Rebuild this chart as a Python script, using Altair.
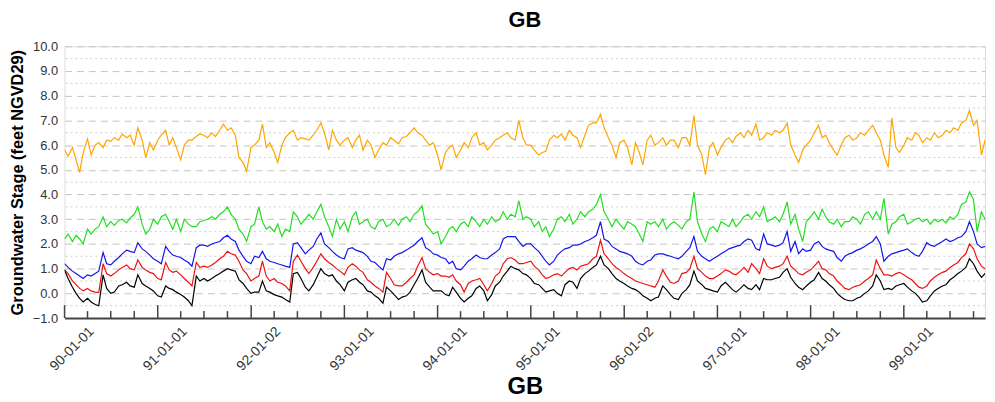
import altair as alt
import pandas as pd

# ---- data (semi-monthly readings, 1990-01-01 .. 1999-12-15) ----
DATES = pd.date_range("1990-01-01", periods=240, freq="SMS")

ORANGE = [
    5.8, 5.55, 5.9, 5.4, 4.9, 5.7, 6.25, 5.6, 6.0, 6.1, 5.9, 6.2, 6.15, 6.3, 6.2, 6.45, 6.3, 6.4, 6.0, 6.7,
    6.2, 5.5, 6.1, 5.8, 6.2, 6.4, 6.6, 6.0, 6.3, 5.9, 5.4, 6.0, 6.2, 6.2, 6.35, 6.45, 6.4, 6.3, 6.5, 6.35,
    6.6, 6.85, 6.6, 6.7, 6.4, 5.5, 5.3, 4.95, 5.9, 6.0, 6.2, 6.85, 5.9, 6.1, 5.7, 5.3, 6.0, 6.3, 6.5, 6.6,
    6.2, 6.3, 6.25, 6.2, 6.4, 6.6, 6.9, 6.5, 5.8, 6.6, 6.2, 6.0, 6.2, 6.3, 5.9, 6.2, 6.4, 5.8, 6.2, 6.0,
    5.5, 5.8, 6.1, 6.0, 6.3, 6.2, 6.05, 6.3, 6.35, 6.5, 6.7, 6.5, 6.4, 6.2, 6.0, 6.1, 5.6, 5.0, 5.7, 5.9,
    6.0, 5.5, 5.8, 6.1, 5.9, 6.3, 6.5, 6.0, 6.1, 5.8, 6.0, 6.2, 6.3, 6.4, 6.5, 6.3, 6.2, 7.0, 6.3, 6.0,
    6.0, 5.8, 5.6, 5.7, 5.75, 6.2, 6.4, 6.3, 6.45, 6.2, 6.6, 6.4, 6.3, 5.9, 6.4, 6.8, 6.9, 6.9, 7.25, 6.7,
    6.3, 6.0, 5.5, 6.1, 6.2, 5.9, 5.2, 6.1, 5.7, 5.2, 6.2, 6.4, 6.0, 6.1, 6.3, 6.0, 6.2, 6.2, 5.9, 6.3,
    6.3, 6.0, 7.2, 6.0, 5.6, 4.8, 5.9, 6.1, 5.6, 5.9, 6.2, 6.3, 6.1, 6.35, 6.5, 6.3, 6.6, 6.4, 6.85, 6.2,
    6.3, 6.5, 6.4, 6.6, 6.5, 6.6, 6.9, 6.0, 5.6, 5.3, 5.8, 6.0, 6.2, 6.5, 6.8, 6.3, 6.4, 6.1, 5.8, 5.6,
    6.0, 6.3, 6.4, 6.2, 6.3, 6.5, 6.4, 6.6, 6.8, 6.5, 6.2, 5.6, 5.1, 7.1, 5.9, 5.7, 6.0, 6.3, 6.2, 6.5,
    6.4, 6.1, 6.3, 6.2, 6.5, 6.3, 6.4, 6.6, 6.5, 6.7, 6.6, 6.9, 7.0, 7.4, 6.8, 7.0, 5.6, 6.2, 6.6, 6.4,
]

GREEN = [
    2.2, 2.4, 2.1, 2.35, 2.2, 2.0, 2.6, 2.4, 2.6, 2.7, 3.1, 2.7, 2.9, 2.75, 2.95, 3.0, 2.85, 3.05, 3.2, 3.5,
    2.8, 2.4, 2.6, 3.0, 2.8, 3.1, 3.2, 2.9, 2.6, 3.0, 2.5, 3.0, 2.8, 2.7, 2.7, 2.9, 2.95, 3.0, 3.1, 3.0,
    3.2, 3.3, 3.5, 3.2, 3.0, 2.6, 2.4, 2.1, 2.7, 2.8, 3.5, 2.9, 2.6, 2.7, 2.5, 2.8, 2.3, 2.6, 2.5, 3.3,
    3.1, 2.8, 3.0, 3.2, 3.0, 3.3, 3.6, 3.1, 2.7, 2.3, 3.0, 2.6, 2.9, 2.5, 3.1, 3.3, 2.8, 2.9, 3.0, 2.7,
    2.6, 2.9, 3.0, 2.7, 2.8, 3.0, 2.75, 3.0, 3.1, 2.9, 3.2, 3.3, 3.55, 2.8, 2.6, 2.4, 2.5, 2.0, 2.3, 2.6,
    2.7, 2.5, 2.8, 2.9, 2.7, 3.1, 2.9, 2.7, 3.0, 2.8, 3.1, 2.9, 3.0, 3.3, 3.0, 3.2, 3.1, 3.75, 3.0, 3.1,
    3.0, 2.7, 2.9, 2.5, 2.7, 2.3, 2.6, 3.0, 3.1, 2.9, 3.2, 2.8, 3.0, 3.3, 3.1, 3.3, 3.4, 3.6, 4.0, 3.3,
    3.0, 2.7, 3.0, 2.8, 2.6, 2.9, 2.8, 2.7, 2.4, 2.1, 2.9, 2.8, 2.9, 2.7, 3.0, 2.6, 2.8, 2.9, 2.75, 2.6,
    2.9, 3.0, 4.1, 2.9, 2.4, 2.1, 2.6, 2.7, 2.5, 2.9, 2.8, 2.7, 3.0, 2.7, 2.9, 3.1, 3.2, 3.0, 3.3, 3.1,
    3.5, 2.9, 3.0, 3.1, 2.9, 3.2, 3.7, 2.8, 3.2, 2.6, 2.1, 2.9, 3.1, 3.3, 3.0, 3.4, 3.1, 2.9, 2.8, 3.0,
    2.7, 2.9, 2.9, 3.1, 3.0, 2.8, 3.2, 3.3, 3.0, 3.3, 3.0, 3.85, 2.4, 2.8, 2.9, 3.1, 3.2, 2.8, 2.9, 3.0,
    3.05, 2.9, 3.0, 2.8, 3.0, 2.9, 3.0, 2.85, 3.1, 3.0, 3.2, 3.6, 3.7, 4.1, 3.8, 2.5, 3.3, 3.0, 3.3, 3.2,
]

BLUE = [
    1.2, 1.05, 0.9, 0.8, 0.7, 0.6, 0.75, 0.7, 0.8, 0.9, 1.65, 1.2, 1.15, 1.3, 1.45, 1.6, 1.75, 1.7, 1.65, 2.05,
    1.8, 1.7, 1.55, 1.4, 1.3, 1.2, 1.9, 1.7, 1.55, 1.5, 1.45, 1.35, 1.25, 1.1, 1.85, 1.95, 1.95, 1.9, 2.0, 2.05,
    2.1, 2.25, 2.35, 2.2, 2.1, 1.75, 1.5, 1.3, 1.2, 1.5, 1.45, 1.7, 1.4, 1.3, 1.25, 1.2, 1.15, 1.1, 1.05, 2.0,
    2.05, 1.85, 1.6, 1.75, 1.9, 2.2, 2.45, 2.0, 1.85, 1.7, 1.55, 1.45, 1.4, 1.8, 1.85, 1.75, 1.7, 1.65, 1.5, 1.3,
    1.25, 1.1, 0.95, 1.4, 1.35, 1.5, 1.6, 1.65, 1.75, 1.85, 1.95, 2.1, 2.25, 1.85, 1.75, 1.6, 1.55, 1.45, 1.4, 1.2,
    1.3, 1.0, 0.95, 1.1, 1.3, 1.4, 1.55, 1.45, 1.4, 1.4, 1.55, 1.65, 1.8, 2.2, 2.3, 2.3, 2.3, 2.1, 1.9, 2.0,
    2.0, 1.85, 1.7, 1.5, 1.3, 1.15, 1.3, 1.55, 1.7, 1.8, 1.85, 1.95, 1.95, 2.0, 2.1, 2.15, 2.25, 2.35, 2.9, 2.2,
    2.1, 1.9, 1.8, 1.7, 1.65, 1.6, 1.5, 1.3, 1.2, 1.15, 1.3, 1.35, 1.55, 1.6, 1.6, 1.55, 1.5, 1.45, 1.4, 1.5,
    1.7, 1.85, 2.3, 1.7, 1.5, 1.4, 1.3, 1.4, 1.5, 1.6, 1.7, 1.8, 1.85, 1.9, 1.95, 2.1, 2.2, 2.15, 1.8, 1.75,
    2.4, 2.0, 1.95, 1.9, 1.95, 2.05, 2.5, 1.7, 2.1, 1.6, 1.8, 1.7, 1.75, 2.0, 2.1, 1.9, 1.8, 1.75, 1.7, 1.45,
    1.3, 1.5, 1.6, 1.65, 1.75, 1.8, 1.9, 2.0, 2.1, 2.3, 2.0, 1.3, 1.5, 1.6, 1.65, 1.7, 1.75, 1.8, 1.65, 1.55,
    1.5, 1.7, 2.05, 1.95, 1.9, 2.0, 2.1, 2.2, 2.1, 2.15, 2.25, 2.3, 2.5, 2.9, 2.5, 2.0, 1.85, 1.9, 1.8, 1.9,
]

RED = [
    0.95, 0.8, 0.5, 0.35, 0.2, 0.1, 0.2, 0.1, 0.05, 0.03, 1.2, 0.8, 0.7, 0.8, 0.95, 1.05, 1.15, 1.0, 0.95, 1.35,
    1.05, 0.95, 0.85, 0.8, 0.6, 0.55, 1.25, 0.95, 0.85, 0.9, 0.75, 0.6, 0.45, 0.3, 1.25, 1.05, 1.1, 1.05, 1.15, 1.25,
    1.4, 1.5, 1.7, 1.6, 1.55, 1.3, 0.95, 0.8, 0.5, 0.6, 0.7, 1.3, 0.7, 0.5, 0.6, 0.45, 0.4, 0.3, 0.1, 1.3,
    1.55, 1.3, 1.0, 0.8, 1.05, 1.3, 1.6, 1.4, 1.25, 1.15, 1.0, 0.9, 0.75, 1.05, 1.2, 1.1, 0.95, 0.85, 0.55, 0.45,
    0.3, 0.2, 0.05, 0.85, 0.6, 0.35, 0.3, 0.3, 0.45, 0.6, 0.75, 1.1, 1.45, 1.0, 0.85, 0.75, 0.8, 0.7, 0.7, 0.65,
    0.75, 0.5, 0.35, 0.05, 0.4, 0.5, 0.55, 0.6, 0.35, 0.1, 0.4, 0.7, 0.85, 1.2, 1.4, 1.45, 1.35, 1.2, 1.2, 1.25,
    1.3, 1.1, 0.95, 0.75, 0.6, 0.65, 0.75, 0.8, 0.7, 0.85, 1.0, 1.05, 0.95, 1.1, 1.15, 1.2, 1.4, 1.5, 2.15, 1.6,
    1.4, 1.2, 1.05, 0.95, 0.8, 0.7, 0.6, 0.5, 0.45, 0.4, 0.35, 0.3, 0.25, 0.5, 0.95, 0.7, 0.45, 0.4, 0.5, 0.8,
    0.85, 1.0, 1.5, 1.0, 0.85, 0.7, 0.6, 0.6, 0.7, 0.8, 0.95, 0.9, 0.8, 0.75, 0.9, 1.05, 0.85, 1.2, 1.0, 0.8,
    1.4, 1.1, 1.0, 1.05, 1.1, 1.2, 1.5, 1.1, 0.95, 0.8, 0.75, 0.85, 0.95, 1.1, 1.3, 1.0, 0.95, 0.8, 0.7, 0.5,
    0.35, 0.2, 0.15, 0.25, 0.3, 0.35, 0.5, 0.6, 0.75, 1.35, 1.0, 0.75, 0.75, 0.7, 0.8, 0.85, 0.75, 0.65, 0.55, 0.4,
    0.25, 0.2, 0.3, 0.5, 0.65, 0.75, 0.85, 0.9, 1.05, 1.15, 1.25, 1.45, 1.6, 2.0, 1.8, 1.4, 1.1, 1.0, 1.0, 1.1,
]

BLACK = [
    0.95, 0.6, 0.25, 0.0, -0.2, -0.35, -0.2, -0.35, -0.45, -0.5, 0.75, 0.2, 0.0, 0.05, 0.3, 0.35, 0.45, 0.3, 0.25, 0.75,
    0.4, 0.3, 0.2, 0.1, -0.1, -0.15, 0.3, 0.2, 0.15, 0.05, -0.05, -0.15, -0.3, -0.5, 0.7, 0.5, 0.6, 0.5, 0.6, 0.7,
    0.8, 0.9, 1.0, 0.95, 0.9, 0.55, 0.4, 0.2, 0.0, 0.05, 0.05, 0.5, 0.1, 0.05, -0.05, -0.1, -0.15, -0.25, -0.35, 0.8,
    0.85, 0.6, 0.25, 0.1, 0.35, 0.65, 1.0, 0.8, 0.7, 0.75, 0.5, 0.35, 0.1, 0.45, 0.55, 0.6, 0.45, 0.35, 0.1, 0.05,
    -0.1, -0.2, -0.4, 0.25, 0.1, -0.05, -0.25, -0.15, -0.1, 0.05, 0.35, 0.6, 0.95, 0.45, 0.25, 0.1, 0.1, 0.1, -0.05, -0.1,
    0.25, 0.05, -0.2, -0.35, -0.2, -0.1, 0.2, 0.3, 0.1, -0.3, -0.05, 0.3, 0.45, 0.7, 0.9, 1.1, 1.0, 0.95, 0.8, 0.75,
    0.6, 0.4, 0.35, 0.2, 0.05, 0.1, 0.15, 0.0, -0.1, 0.35, 0.5, 0.45, 0.2, 0.6, 0.8, 0.9, 1.05, 1.15, 1.5, 1.15,
    1.0, 0.8, 0.6, 0.5, 0.4, 0.3, 0.2, 0.15, 0.05, -0.1, -0.2, -0.3, -0.2, -0.15, 0.3, 0.15, -0.05, -0.2, -0.25, 0.0,
    0.15, 0.35, 0.9, 0.5, 0.35, 0.2, 0.15, 0.1, 0.05, 0.3, 0.45, 0.3, 0.15, 0.05, 0.2, 0.35, 0.2, 0.15, 0.35, 0.15,
    0.6, 0.55, 0.55, 0.6, 0.65, 0.85, 1.0, 0.65, 0.4, 0.25, 0.15, 0.3, 0.45, 0.55, 0.85, 0.6, 0.5, 0.35, 0.2, 0.0,
    -0.15, -0.25, -0.3, -0.3, -0.2, -0.15, 0.0, 0.1, 0.3, 0.75, 0.5, 0.15, 0.2, 0.15, 0.3, 0.35, 0.4, 0.25, 0.1, 0.0,
    -0.15, -0.35, -0.3, -0.1, 0.1, 0.2, 0.3, 0.35, 0.55, 0.65, 0.8, 0.9, 1.05, 1.4, 1.2, 0.9, 0.65, 0.8, 0.5, 0.6,
]

SERIES_NAMES = ["orange", "green", "blue", "red", "black"]
SERIES_COLORS = ["#FFA500", "#22DD22", "#1414EE", "#EE1111", "#000000"]

MAJOR_TICKS = ["1990-01-01", "1991-01-01", "1992-01-02", "1993-01-01", "1994-01-01",
               "1995-01-01", "1996-01-02", "1997-01-01", "1998-01-01", "1999-01-01"]
MINOR_MONTHS = [4, 7, 10]
Y_MAJOR = list(range(-1, 11))
Y_MINOR = [v + 0.5 for v in range(-1, 10)]
X_START = (1990, 1, 1)
X_END = (1999, 11, 15)

FONT = "Liberation Sans"

# ---- build tables ----
rows = []
for name, vals in zip(SERIES_NAMES, [ORANGE, GREEN, BLUE, RED, BLACK]):
    for d, v in zip(DATES, vals):
        rows.append({"date": d.strftime("%Y-%m-%d"), "series": name, "stage": v})
df = pd.DataFrame(rows)

major_df = pd.DataFrame({"date": MAJOR_TICKS})
minor_df = pd.DataFrame({"date": [f"{int(t[:4])}-{m:02d}-01" for t in MAJOR_TICKS for m in MINOR_MONTHS]})
half_df = pd.DataFrame({"level": Y_MINOR})


def dt(t):
    return alt.DateTime(year=t[0], month=t[1], date=t[2], utc=True)


W, H = 928, 274
x_scale = alt.Scale(type="utc", domain=[dt(X_START), dt(X_END)])
y_scale = alt.Scale(domain=[-1, 10], nice=False)

x_axis = alt.Axis(
    values=[dt((int(t[:4]), int(t[5:7]), int(t[8:10]))) for t in MAJOR_TICKS],
    format="%y-%m-%d", labelAngle=-45, labelAlign="right", labelBaseline="top",
    labelOffset=22, labelPadding=6, labelFontSize=14, labelColor="#333333", labelFont=FONT,
    ticks=False, grid=False, domain=True, domainColor="#444444", domainWidth=2,
    title="GB", titleFontSize=24, titleFontWeight="bold", titleFont=FONT, titleColor="#000000",
    titleY=76, titleBaseline="alphabetic", labelOverlap=False,
)
y_axis = alt.Axis(
    values=Y_MAJOR, format=".1f", grid=True, gridDash=[7, 5], gridColor="#c4c4c4", gridWidth=1,
    ticks=False, domain=False, labelFontSize=13, labelColor="#333333", labelFont=FONT, labelPadding=7,
    title="Groundwater Stage (feet NGVD29)", titleFontSize=16.5, titleFontWeight="bold",
    titleFont=FONT, titleColor="#000000", titlePadding=7,
)

half_rules = alt.Chart(half_df).mark_rule(color="#cfcfcf", strokeDash=[2, 3], strokeWidth=1).encode(
    y=alt.Y("level:Q", scale=y_scale, axis=y_axis)
)

lines = alt.Chart(df).mark_line(strokeWidth=1.2, clip=True).encode(
    x=alt.X("date:T", scale=x_scale, axis=x_axis),
    y=alt.Y("stage:Q", scale=y_scale, axis=y_axis),
    color=alt.Color("series:N", scale=alt.Scale(domain=SERIES_NAMES, range=SERIES_COLORS), legend=None),
    detail="series:N",
)

major_ticks = alt.Chart(major_df).mark_rule(color="#444444", strokeWidth=1.5).encode(
    x=alt.X("date:T", scale=x_scale, axis=x_axis),
    y=alt.value(H), y2=alt.value(H - 13),
)
minor_ticks = alt.Chart(minor_df).mark_rule(color="#444444", strokeWidth=1.5).encode(
    x=alt.X("date:T", scale=x_scale, axis=x_axis),
    y=alt.value(H), y2=alt.value(H - 7),
)

chart = alt.layer(half_rules, lines, major_ticks, minor_ticks).properties(
    width=W, height=H,
    title=alt.TitleParams("GB", fontSize=22, fontWeight="bold", font=FONT, color="#000000",
                          anchor="middle", offset=8),
    autosize=alt.AutoSizeParams(type="none"),
    padding={"left": 57, "top": 37, "right": 2, "bottom": 80},
).configure_view(stroke="#555555", strokeWidth=2).configure(background="white", font=FONT)

chart.save("out.html", embed_options={"renderer": "svg", "actions": False})
